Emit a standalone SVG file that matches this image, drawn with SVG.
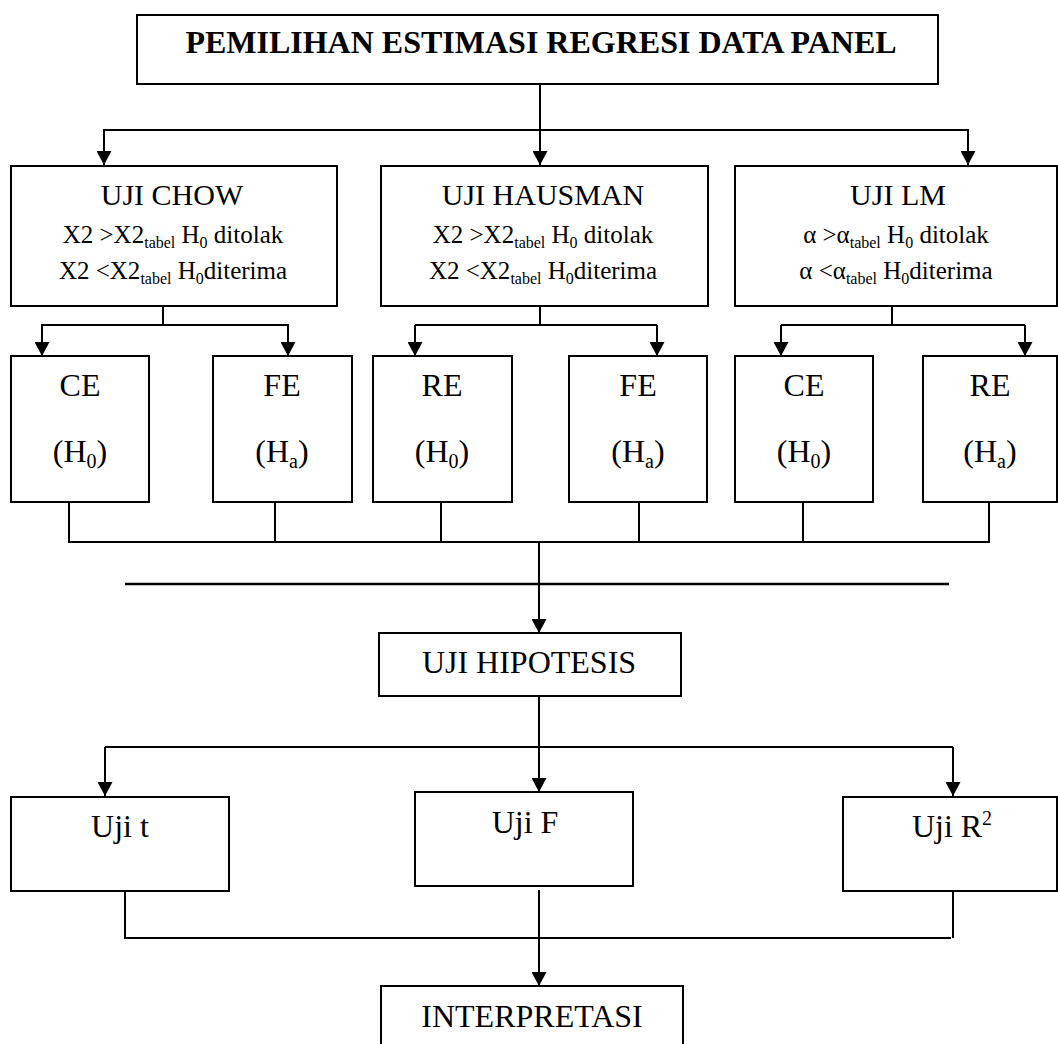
<svg xmlns="http://www.w3.org/2000/svg" width="1058" height="1044" viewBox="0 0 1058 1044">
<style>
.box{fill:#fff;stroke:#000;stroke-width:2}
.ln{fill:none;stroke:#000;stroke-width:2}
text{font-family:"Liberation Serif","Times New Roman",serif;fill:#000;text-anchor:middle}
.t1{font-size:30px}
.t2{font-size:25px}
.sb{font-size:16px}
.big{font-size:32px}
.sb2{font-size:20px}
</style>
<defs>
<marker id="ar" markerUnits="userSpaceOnUse" markerWidth="15" markerHeight="15" refX="14" refY="7.5" orient="auto">
<path d="M0,0 L14,7.5 L0,15 z" fill="#000"/>
</marker>
</defs>
<g id="connectors">
<path class="ln" d="M540,84 V165" marker-end="url(#ar)"/>
<path class="ln" d="M104,165 V130 H968 V165" />
<path class="ln" d="M104,130 V165" marker-end="url(#ar)"/>
<path class="ln" d="M968,130 V165" marker-end="url(#ar)"/>
<path class="ln" d="M163,306 V325"/>
<path class="ln" d="M42,356 V325 H288 V356"/>
<path class="ln" d="M42,325 V356" marker-end="url(#ar)"/>
<path class="ln" d="M288,325 V356" marker-end="url(#ar)"/>
<path class="ln" d="M540,306 V325"/>
<path class="ln" d="M415,325 H657"/>
<path class="ln" d="M415,325 V356" marker-end="url(#ar)"/>
<path class="ln" d="M657,325 V356" marker-end="url(#ar)"/>
<path class="ln" d="M892,306 V325"/>
<path class="ln" d="M781,325 H1025"/>
<path class="ln" d="M781,325 V356" marker-end="url(#ar)"/>
<path class="ln" d="M1025,325 V356" marker-end="url(#ar)"/>
<path class="ln" d="M69,502 V542 H989 V502"/>
<path class="ln" d="M275,502 V542 M441,502 V542 M639,502 V542 M803,502 V542"/>
<path class="ln" d="M125,584 H949" style="stroke-width:2.5"/>
<path class="ln" d="M539,542 V633" marker-end="url(#ar)"/>
<path class="ln" d="M539,696 V747"/>
<path class="ln" d="M105,747 H953"/>
<path class="ln" d="M105,747 V796" marker-end="url(#ar)"/>
<path class="ln" d="M953,747 V796" marker-end="url(#ar)"/>
<path class="ln" d="M539,747 V792" marker-end="url(#ar)"/>
<path class="ln" d="M125,891 V938 H951 M953,891 V938"/>
<path class="ln" d="M539,890 V986" marker-end="url(#ar)"/>
</g>
<g id="title">
<rect class="box" x="137" y="15" width="801" height="69"/>
<text x="541" y="53" style="font-size:32px;font-weight:bold">PEMILIHAN ESTIMASI REGRESI DATA PANEL</text>
</g>
<g id="chow">
<rect class="box" x="11" y="166" width="326" height="140"/>
<text class="t1" x="172" y="205">UJI CHOW</text>
<text class="t2" x="173" y="243">X2 &gt;X2<tspan class="sb" dy="5">tabel</tspan><tspan dy="-5"> H</tspan><tspan class="sb" dy="5">0</tspan><tspan dy="-5"> ditolak</tspan></text>
<text class="t2" x="173" y="279">X2 &lt;X2<tspan class="sb" dy="5">tabel</tspan><tspan dy="-5"> H</tspan><tspan class="sb" dy="5">0</tspan><tspan dy="-5">diterima</tspan></text>
</g>
<g id="hausman">
<rect class="box" x="381" y="166" width="327" height="140"/>
<text class="t1" x="543" y="205">UJI HAUSMAN</text>
<text class="t2" x="543" y="243">X2 &gt;X2<tspan class="sb" dy="5">tabel</tspan><tspan dy="-5"> H</tspan><tspan class="sb" dy="5">0</tspan><tspan dy="-5"> ditolak</tspan></text>
<text class="t2" x="543" y="279">X2 &lt;X2<tspan class="sb" dy="5">tabel</tspan><tspan dy="-5"> H</tspan><tspan class="sb" dy="5">0</tspan><tspan dy="-5">diterima</tspan></text>
</g>
<g id="lm">
<rect class="box" x="735" y="166" width="322" height="140"/>
<text class="t1" x="898" y="205">UJI LM</text>
<text class="t2" x="896" y="243">α &gt;α<tspan class="sb" dy="5">tabel</tspan><tspan dy="-5"> H</tspan><tspan class="sb" dy="5">0</tspan><tspan dy="-5"> ditolak</tspan></text>
<text class="t2" x="896" y="279">α &lt;α<tspan class="sb" dy="5">tabel</tspan><tspan dy="-5"> H</tspan><tspan class="sb" dy="5">0</tspan><tspan dy="-5">diterima</tspan></text>
</g>
<g id="ce1">
<rect class="box" x="11" y="356" width="138" height="146"/>
<text class="big" x="80" y="396">CE</text>
<text class="big" x="80" y="462">(H<tspan class="sb2" dy="6">0</tspan><tspan dy="-6">)</tspan></text>
</g>
<g id="fe1">
<rect class="box" x="213" y="356" width="139" height="146"/>
<text class="big" x="282" y="396">FE</text>
<text class="big" x="282" y="462">(H<tspan class="sb2" dy="6">a</tspan><tspan dy="-6">)</tspan></text>
</g>
<g id="re1">
<rect class="box" x="373" y="356" width="139" height="146"/>
<text class="big" x="442" y="396">RE</text>
<text class="big" x="442" y="462">(H<tspan class="sb2" dy="6">0</tspan><tspan dy="-6">)</tspan></text>
</g>
<g id="fe2">
<rect class="box" x="569" y="356" width="138" height="146"/>
<text class="big" x="638" y="396">FE</text>
<text class="big" x="638" y="462">(H<tspan class="sb2" dy="6">a</tspan><tspan dy="-6">)</tspan></text>
</g>
<g id="ce2">
<rect class="box" x="735" y="356" width="138" height="146"/>
<text class="big" x="804" y="396">CE</text>
<text class="big" x="804" y="462">(H<tspan class="sb2" dy="6">0</tspan><tspan dy="-6">)</tspan></text>
</g>
<g id="re2">
<rect class="box" x="923" y="356" width="134" height="146"/>
<text class="big" x="990" y="396">RE</text>
<text class="big" x="990" y="462">(H<tspan class="sb2" dy="6">a</tspan><tspan dy="-6">)</tspan></text>
</g>
<g id="hipotesis">
<rect class="box" x="379" y="633" width="302" height="63"/>
<text class="big" x="529" y="673">UJI HIPOTESIS</text>
</g>
<g id="ujit">
<rect class="box" x="11" y="797" width="218" height="94"/>
<text class="big" x="120" y="837">Uji t</text>
</g>
<g id="ujif">
<rect class="box" x="415" y="792" width="218" height="94"/>
<text class="big" x="525" y="833">Uji F</text>
</g>
<g id="ujir">
<rect class="box" x="843" y="797" width="214" height="94"/>
<text class="big" x="952" y="837">Uji R<tspan class="sb2" dy="-12">2</tspan></text>
</g>
<g id="interpretasi">
<rect class="box" x="381" y="986" width="302" height="70"/>
<text class="big" x="532" y="1027">INTERPRETASI</text>
</g>
</svg>
